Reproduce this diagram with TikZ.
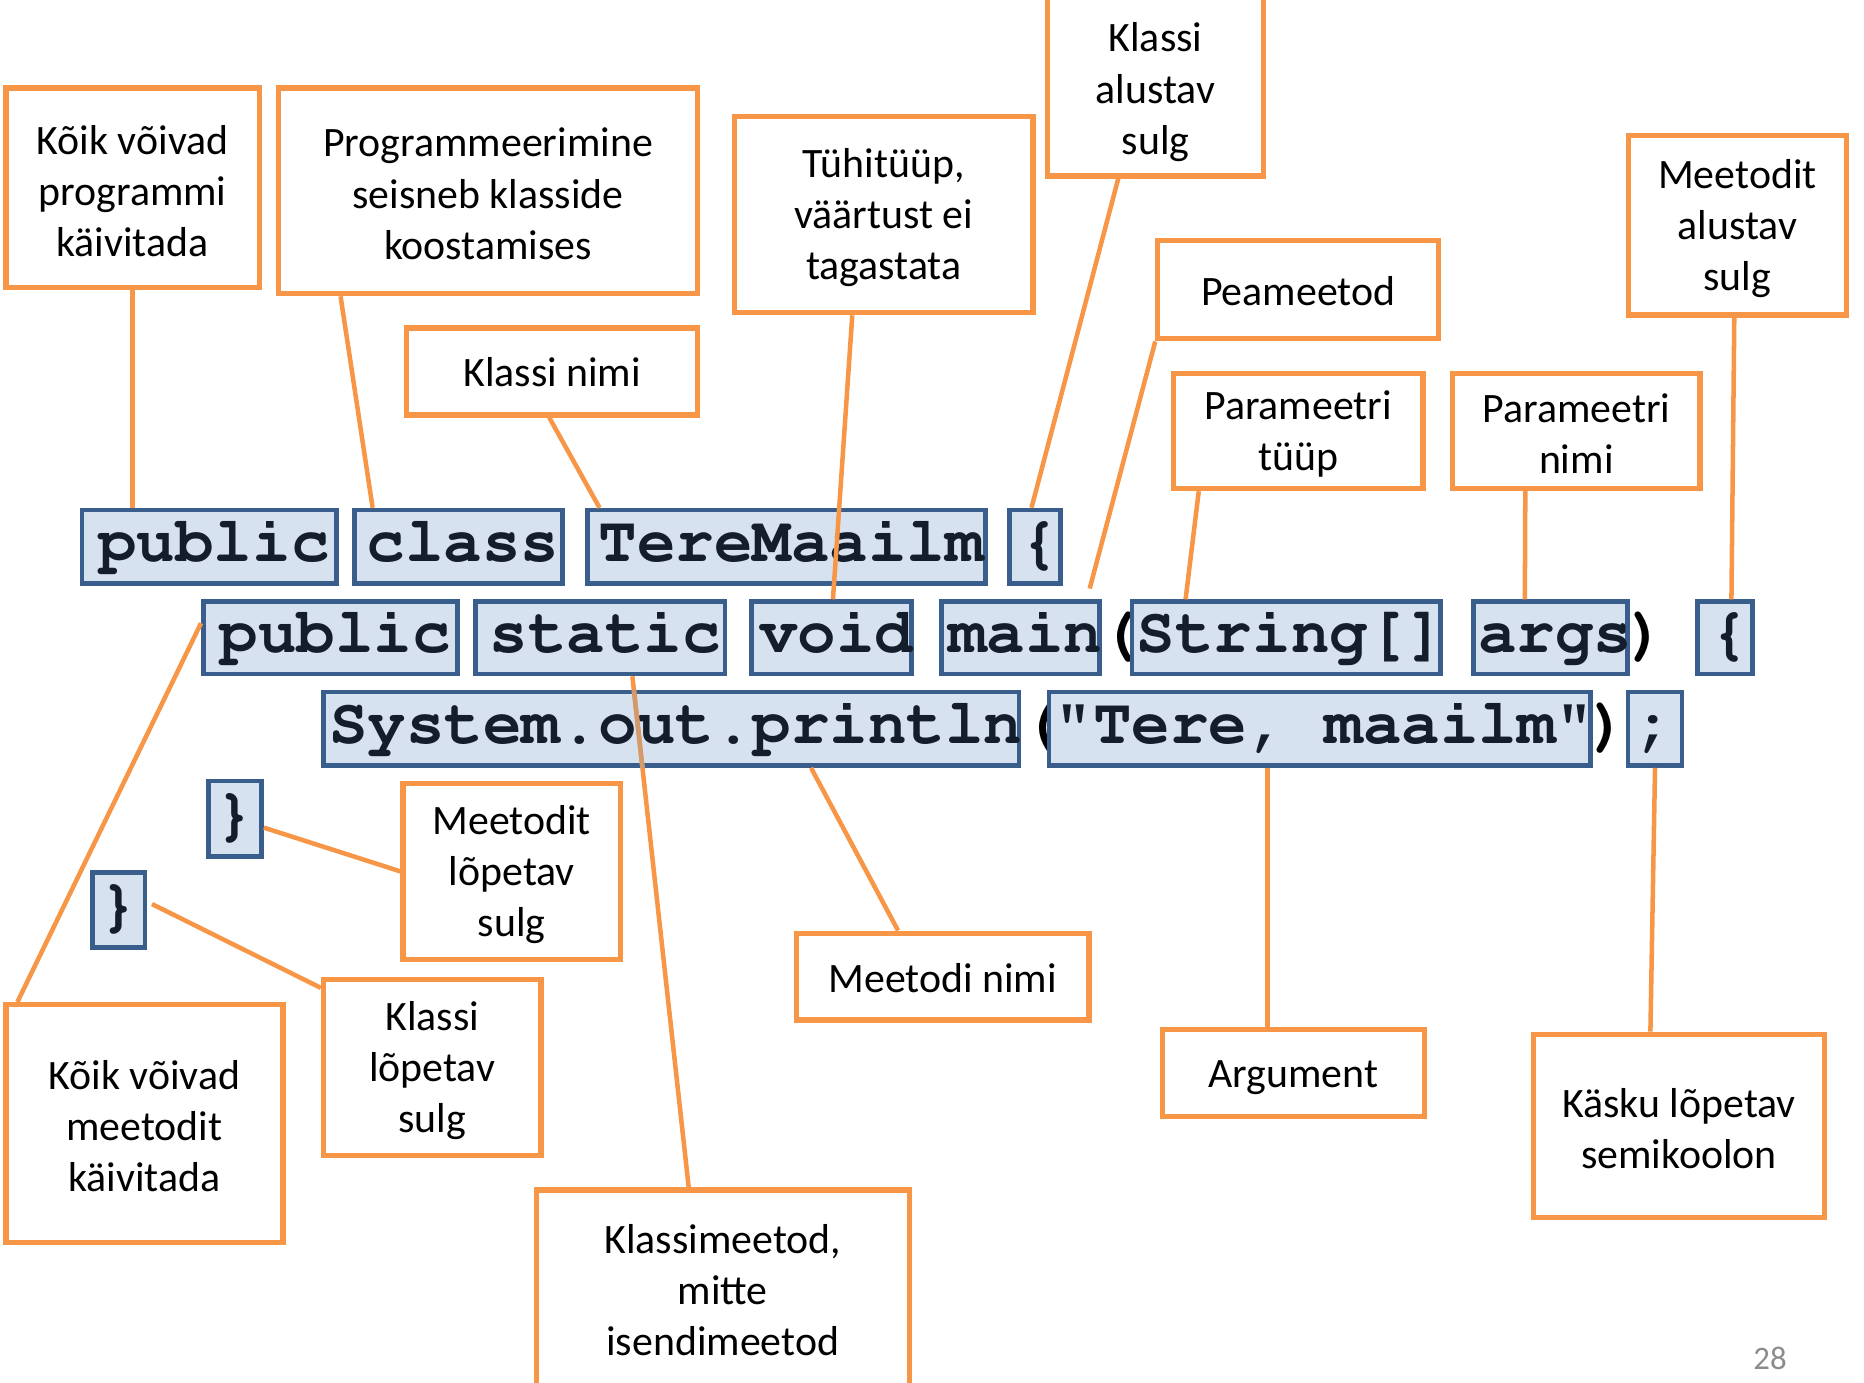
\documentclass[tikz,border=0pt]{standalone}
\usepackage[T1]{fontenc}
\usepackage{fontspec}
\setmainfont{Carlito}
\newcommand\mycode{\fontencoding{T1}\fontfamily{pcr}\fontseries{b}\fontshape{n}\selectfont}
\usetikzlibrary{calc}
\definecolor{orng}{HTML}{F79646}
\definecolor{orngdim}{HTML}{D39A6C}
\definecolor{cbord}{HTML}{3A5E8C}
\definecolor{cfill}{HTML}{D7E2F0}
\definecolor{ctxt}{HTML}{131D2C}
\definecolor{pgray}{HTML}{8C8C8C}
\begin{document}
\begin{tikzpicture}[x=0.5pt,y=-0.5pt,
  obox/.style={draw=orng, line width=2.2pt, fill=white, inner sep=0pt},
  otext/.style={align=center, inner sep=0pt, font=\fontsize{17.6pt}{21.5pt}\selectfont},
  cbox0/.style={draw=cbord, line width=1.9pt, fill=cfill, inner sep=0pt, text=ctxt,
    font=\mycode\fontsize{27pt}{27pt}\selectfont, text height=15pt, text depth=3pt},
  cbox/.style={cbox0,
    execute at begin node={\hspace*{2pt}}, execute at end node={\hspace*{-2pt}}},
  ctext/.style={inner sep=0pt, text=black,
    font=\mycode\fontsize{27pt}{27pt}\selectfont, text height=15pt, text depth=3pt},
  lnk/.style={draw=orng, line width=1.9pt}]
\useasboundingbox (0,0) rectangle (1568,1163);

% ---- code boxes ----
\node[cbox, minimum width=107pt, minimum height=31pt] (pub1) at (176,460) {public};
\node[cbox, minimum width=87.5pt, minimum height=31pt] (cls) at (385.5,460) {class};
\node[cbox, minimum width=167.5pt, minimum height=31pt] (tere) at (661.5,460) {TereMaailm};
\node[cbox, minimum width=21.5pt, minimum height=31pt] (lb1) at (870.5,460) {\{};

\node[cbox, minimum width=107pt, minimum height=30.5pt] (pub2) at (278,536.5) {public};
\node[cbox, minimum width=105pt, minimum height=30.5pt] (stat) at (505,536.5) {static};
\node[cbox, minimum width=67.3pt, minimum height=30.5pt] (void) at (699.3,536.5) {void};
\node[cbox, minimum width=66.5pt, minimum height=30.5pt] (main) at (858.5,536.5) {main};
\node[ctext] (lp1) at (942,536.5) {(};
\node[cbox, minimum width=129pt, minimum height=30.5pt] (str) at (1082,536.5) {String[]};
\node[cbox, minimum width=64.4pt, minimum height=30.5pt] (args) at (1304.3,536.5) {args};
\node[ctext] (rp1) at (1385,536.5) {)};
\node[cbox, minimum width=23pt, minimum height=30.5pt] (lb2) at (1451,536.5) {\{};

\node[cbox, minimum width=292.5pt, minimum height=31pt] (sys) at (564.5,613) {System.out.println};
\node[ctext] (lp2) at (876,613) {(};
\node[cbox, minimum width=227.75pt, minimum height=31pt] (terestr) at (1110.2,613) {"Tere, maailm"};
\node[ctext] (rp2) at (1353,613) {)};
\node[cbox0, minimum width=22.75pt, minimum height=31pt] (semi) at (1392.2,613) {;};

\node[cbox0, minimum width=22.25pt, minimum height=31.75pt] (br1) at (197.8,688.8) {\}};
\node[cbox0, minimum width=22pt, minimum height=31.5pt] (br2) at (100,765.5) {\}};

% ---- orange label boxes ----
\node[obox, minimum width=106.5pt, minimum height=84pt] (kv1) at (111.5,158) {};
\node[otext] (kv1t) at (111.5,160.5) {Kõik võivad\\programmi\\käivitada};
\node[obox, minimum width=176.5pt, minimum height=86.5pt] (prog) at (410.5,160.5) {};
\node[otext] (progt) at (410.5,163) {Programmeerimine\\seisneb klasside\\koostamises};
\node[obox, minimum width=122.5pt, minimum height=36.5pt] (knimi) at (464.5,312.5) {};
\node[otext] (knimit) at (464.5,313) {Klassi nimi};
\node[obox, minimum width=125.5pt, minimum height=82.5pt] (tyhi) at (743.5,180.5) {};
\node[otext] (tyhit) at (743.5,183) {Tühitüüp,\\väärtust ei\\tagastata};
\node[obox, minimum width=91pt, minimum height=91pt] (kalus) at (972,57) {};
\node[otext] (kalust) at (972,77.5) {Klassi\\alustav\\sulg};
\node[obox, minimum width=118pt, minimum height=41.5pt] (peam) at (1092,243.5) {};
\node[otext] (peamt) at (1092,244.5) {Peameetod};
\node[obox, minimum width=105pt, minimum height=48.5pt] (ptyyp) at (1092,362.5) {};
\node[otext] (ptyypt) at (1092,365) {Parameetri\\tüüp};
\node[obox, minimum width=104pt, minimum height=48.5pt] (pnimi) at (1326,362.5) {};
\node[otext] (pnimit) at (1326,365) {Parameetri\\nimi};
\node[obox, minimum width=91.5pt, minimum height=75.5pt] (malus) at (1461.5,189.5) {};
\node[otext] (malust) at (1461.5,192) {Meetodit\\alustav\\sulg};
\node[obox, minimum width=91.5pt, minimum height=74pt] (mlop) at (430.5,733) {};
\node[otext] (mlopt) at (430.5,735.5) {Meetodit\\lõpetav\\sulg};
\node[obox, minimum width=91.5pt, minimum height=74pt] (klop) at (363.5,898) {};
\node[otext] (klopt) at (363.5,900.5) {Klassi\\lõpetav\\sulg};
\node[obox, minimum width=116.5pt, minimum height=100pt] (kv2) at (121.5,945) {};
\node[otext] (kv2t) at (121.5,947.5) {Kõik võivad\\meetodit\\käivitada};
\node[obox, minimum width=123pt, minimum height=36.5pt] (mnimi) at (793,821.5) {};
\node[otext] (mnimit) at (793,823) {Meetodi nimi};
\node[obox, minimum width=110pt, minimum height=36.5pt] (arg) at (1088,902.5) {};
\node[otext] (argt) at (1088,906.5) {Argument};
\node[obox, minimum width=122.5pt, minimum height=77pt] (kasku) at (1412.5,947) {};
\node[otext] (kaskut) at (1412.5,949.5) {Käsku lõpetav\\semikoolon};
\node[obox, minimum width=157pt, minimum height=99.5pt] (klm) at (608,1100.5) {};
\node[otext] (klmt) at (608,1085.5) {Klassimeetod,\\mitte\\isendimeetod};

\node[inner sep=0pt, text=pgray, font=\fontsize{13.8pt}{14pt}\selectfont] (pnum) at (1489,1143) {28};

% ---- connectors ----
\draw[lnk] (kv1.south) -- (kv1.south |- pub1.north);
\draw[lnk] ($(prog.south west)!0.153!(prog.south east)$) -- ($(cls.north west)!0.097!(cls.north east)$);
\draw[lnk] ($(knimi.south west)!0.49!(knimi.south east)$) -- ($(tere.north west)!0.036!(tere.north east)$);
\draw[lnk] ($(tyhi.south west)!0.396!(tyhi.south east)$) -- ($(void.north west)!0.51!(void.north east)$);
\draw[lnk] ($(kalus.south west)!0.332!(kalus.south east)$) -- ($(lb1.north west)!0.44!(lb1.north east)$);
\draw[lnk] (peam.south west) -- ($(main.north west)!0.925!(main.north east)+(0,-9)$);
\draw[lnk] ($(ptyyp.south west)!0.11!(ptyyp.south east)$) -- ($(str.north west)!0.178!(str.north east)$);
\draw[lnk] ($(pnimi.south west)!0.298!(pnimi.south east)$) -- ($(args.north west)!0.338!(args.north east)$);
\draw[lnk] ($(malus.south west)!0.486!(malus.south east)$) -- ($(lb2.north west)!0.61!(lb2.north east)$);
\draw[lnk] ($(pub2.north west)!0.31!(pub2.south west)$) -- ($(kv2.north west)!0.05!(kv2.north east)$);
\coordinate (c11a) at ($(stat.south west)!0.626!(stat.south east)$);
\coordinate (c11b) at ($(klm.north west)!0.41!(klm.north east)$);
\draw[lnk] (c11a) -- (c11b);
\begin{scope}
  \clip (sys.north west) rectangle (sys.south east);
  \draw[lnk, draw=orngdim] (c11a) -- (c11b);
\end{scope}
\draw[lnk] ($(sys.south west)!0.70!(sys.south east)$) -- ($(mnimi.north west)!0.35!(mnimi.north east)$);
\coordinate (c13) at ($(terestr.south west)!0.404!(terestr.south east)$);
\draw[lnk] (c13) -- (c13 |- arg.north);
\draw[lnk] (semi.south) -- ($(kasku.north west)!0.403!(kasku.north east)$);
\draw[lnk] ($(br1.north east)!0.61!(br1.south east)$) -- (mlop.west);
\draw[lnk] ($(br2.east)+(4,-5)$) -- ($(klop.north west)!0.06!(klop.south west)$);
\end{tikzpicture}
\end{document}
